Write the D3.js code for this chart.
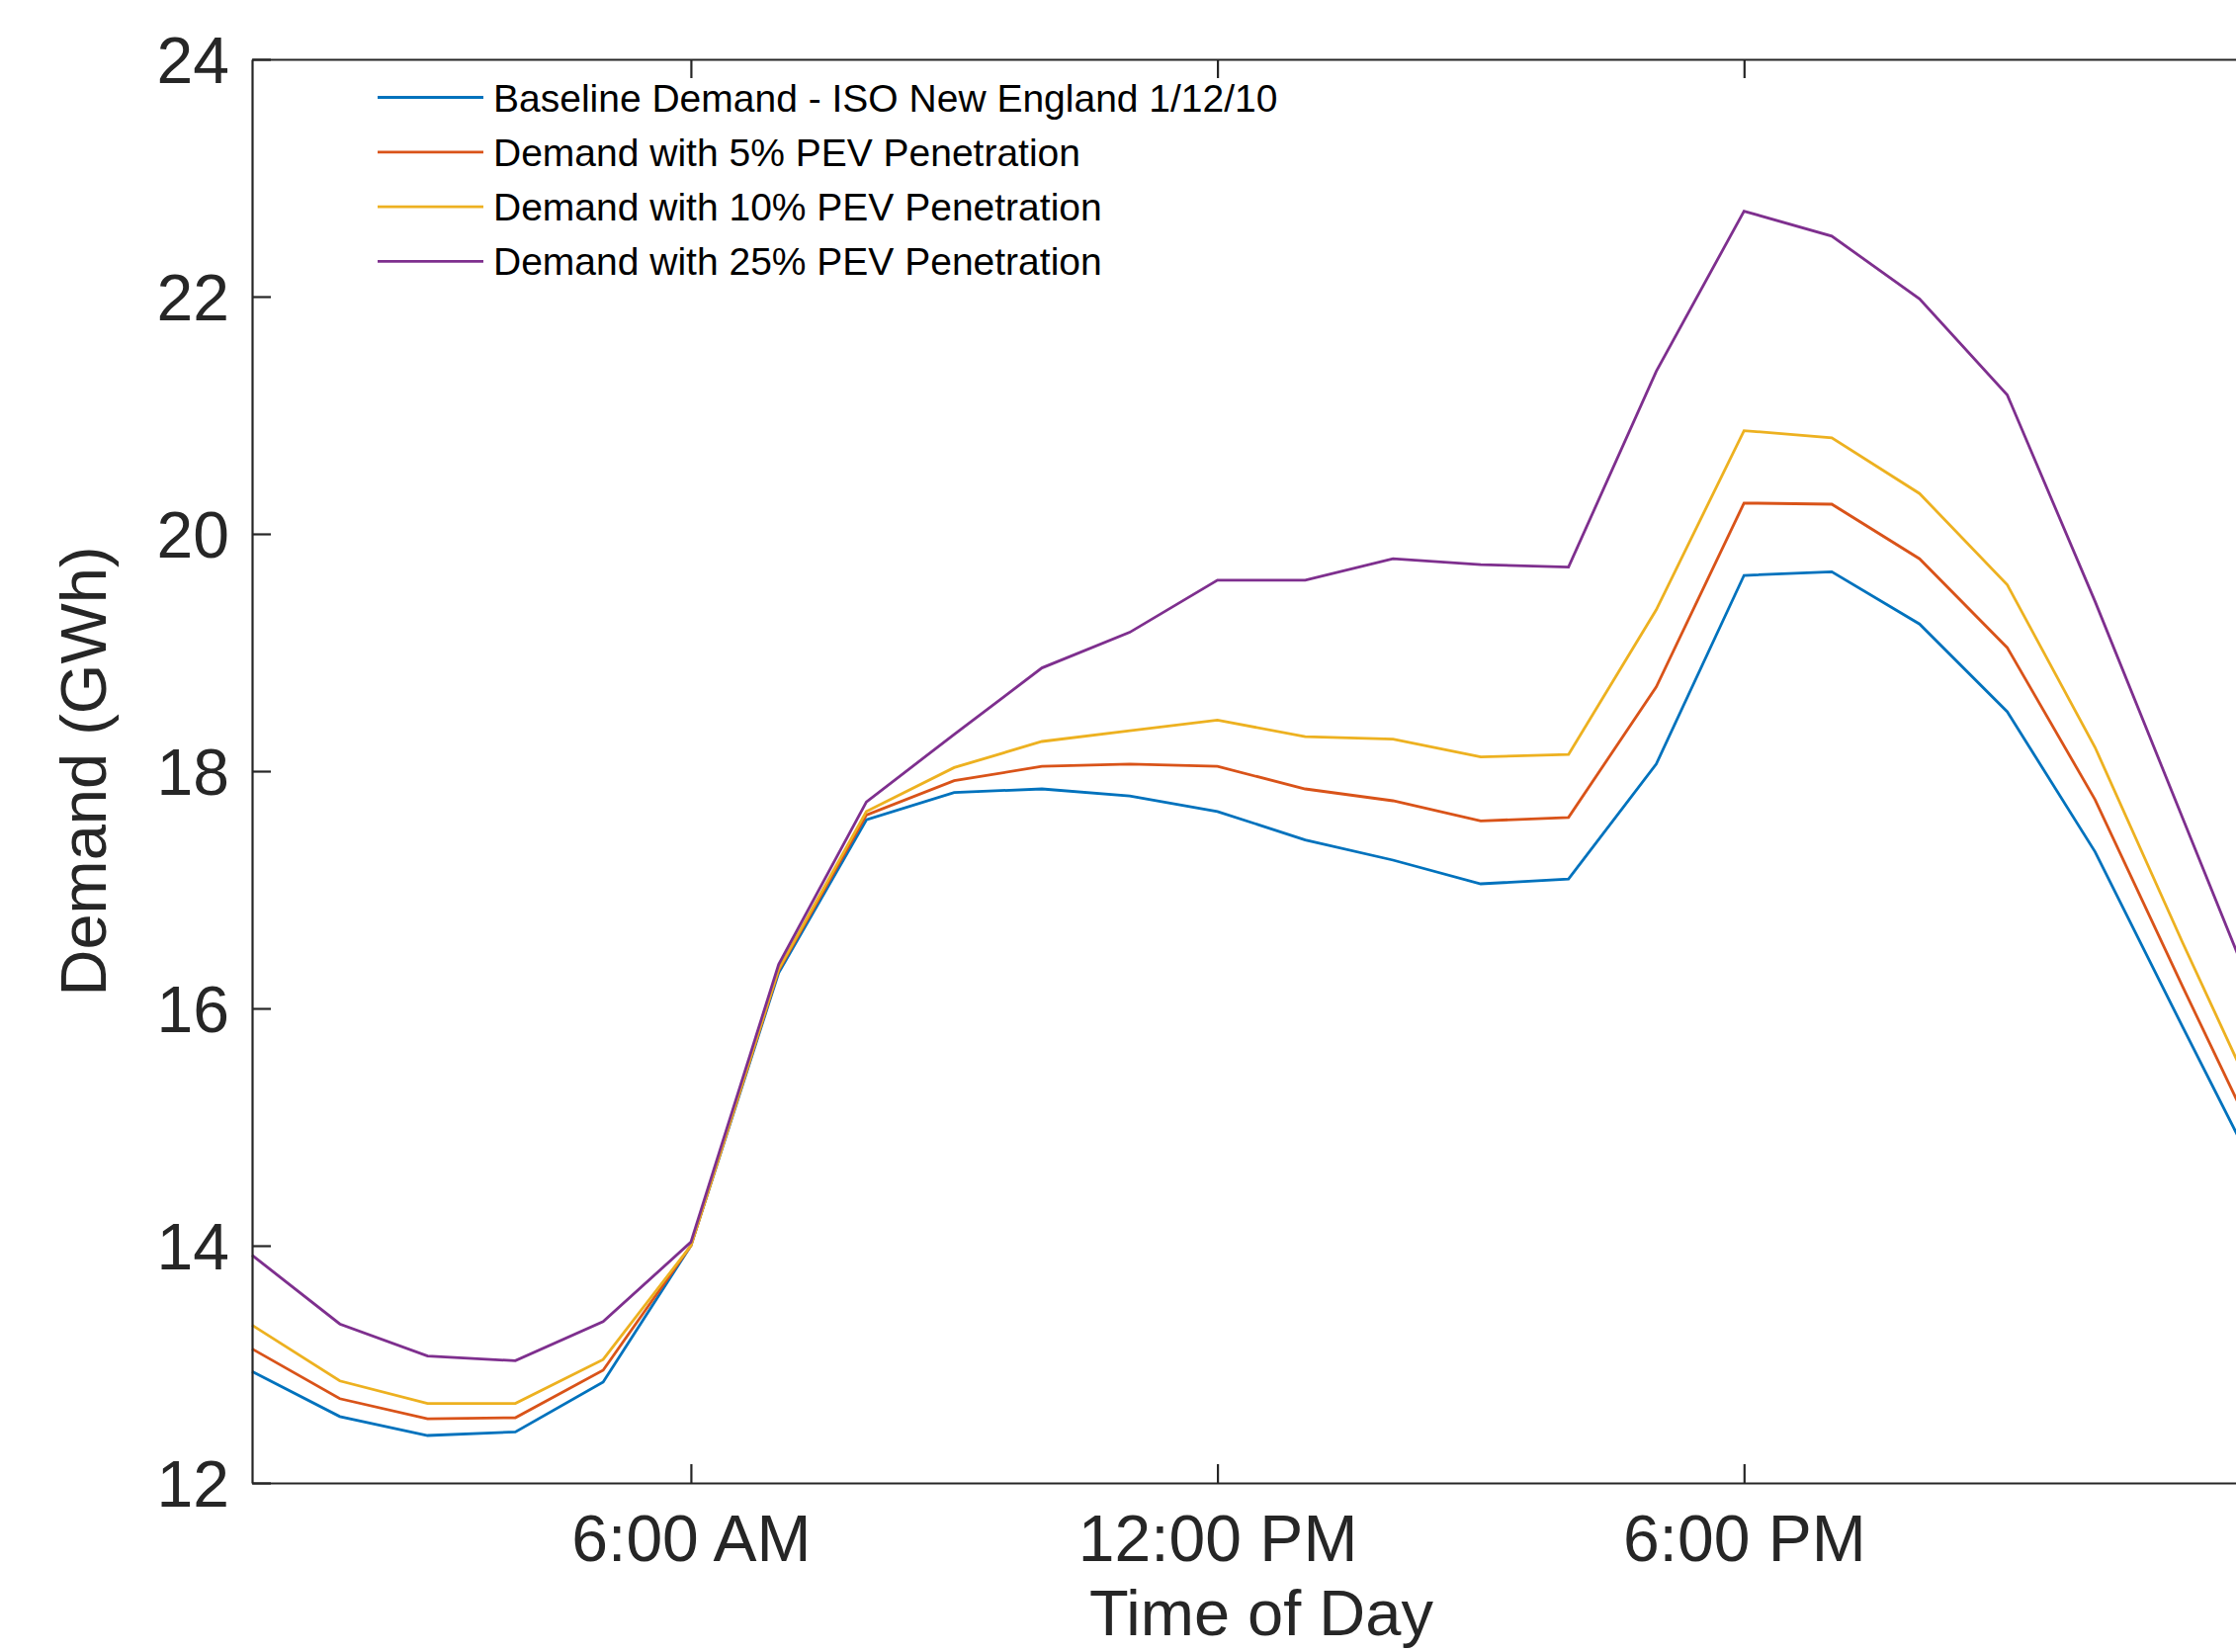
<!DOCTYPE html>
<html>
<head>
<meta charset="utf-8">
<script src="https://cdn.jsdelivr.net/npm/d3@7"></script>
<style>
  html, body { margin: 0; padding: 0; background: #fff; overflow: hidden; }
  svg { display: block; font-family: "Liberation Sans", Arial, Helvetica, sans-serif; }
</style>
</head>
<body>
<svg id="chart" width="2262" height="1671"></svg>
<script>
// ---- data ----
const hours = [1,2,3,4,5,6,7,8,9,10,11,12,13,14,15,16,17,18,19,20,21,22,23,24];
const baseline = [12.94,12.56,12.40,12.43,12.85,14.00,16.30,17.59,17.82,17.85,17.79,17.66,17.42,17.25,17.05,17.09,18.06,19.65,19.68,19.24,18.50,17.32,15.84,14.38];
const pev5     = [13.13,12.71,12.54,12.55,12.95,14.00,16.32,17.63,17.92,18.04,18.06,18.04,17.85,17.75,17.58,17.61,18.71,20.26,20.25,19.79,19.04,17.76,16.18,14.63];
const pev10    = [13.33,12.86,12.67,12.67,13.04,14.00,16.33,17.66,18.03,18.25,18.34,18.43,18.29,18.27,18.12,18.14,19.36,20.87,20.81,20.34,19.57,18.20,16.55,14.95];
const pev25    = [13.92,13.34,13.07,13.03,13.36,14.03,16.37,17.74,18.31,18.87,19.17,19.61,19.61,19.79,19.74,19.72,21.37,22.72,22.51,21.98,21.17,19.43,17.60,15.77];
const seriesNames = [
  "Baseline Demand - ISO New England 1/12/10",
  "Demand with 5% PEV Penetration",
  "Demand with 10% PEV Penetration",
  "Demand with 25% PEV Penetration"
];
const seriesColors = ["#0072BD", "#D95319", "#EDB120", "#7E2F8E"];
const xTickValues = [6, 12, 18];
const xTickLabels = ["6:00 AM", "12:00 PM", "6:00 PM"];
const yTickValues = [12, 14, 16, 18, 20, 22, 24];
const xLabel = "Time of Day";
const yLabel = "Demand (GWh)";

// ---- layout ----
const svg = d3.select("#chart");
const plotLeft = 255, plotRight = 2297, plotTop = 60, plotBottom = 1500;
const axisColor = "#262626";
const tickLen = 19;

const x = d3.scaleLinear().domain([1, 24]).range([plotLeft, plotRight]);
const y = d3.scaleLinear().domain([12, 24]).range([plotBottom, plotTop]);

// lines
const series = [baseline, pev5, pev10, pev25];
const line = d3.line().x((d, i) => x(hours[i])).y(d => y(d));
svg.append("g").selectAll("path")
  .data(series)
  .join("path")
  .attr("d", d => line(d))
  .attr("fill", "none")
  .attr("stroke", (d, i) => seriesColors[i])
  .attr("stroke-width", 2.8)
  .attr("stroke-linejoin", "miter");

// axes
const labelMap = new Map(xTickValues.map((v, i) => [v, xTickLabels[i]]));
const gx = svg.append("g").attr("transform", `translate(0,${plotBottom})`)
  .call(d3.axisBottom(x).tickValues(xTickValues).tickFormat(v => labelMap.get(v))
        .tickSizeInner(-tickLen).tickSizeOuter(0).tickPadding(31));
const gxTop = svg.append("g").attr("transform", `translate(0,${plotTop})`)
  .call(d3.axisTop(x).tickValues(xTickValues).tickFormat("")
        .tickSizeInner(-tickLen).tickSizeOuter(0));
const gy = svg.append("g").attr("transform", `translate(${plotLeft},0)`)
  .call(d3.axisLeft(y).tickValues(yTickValues).tickFormat(d3.format("d"))
        .tickSizeInner(-tickLen).tickSizeOuter(0).tickPadding(23));
const gyRight = svg.append("g").attr("transform", `translate(${plotRight},0)`)
  .call(d3.axisRight(y).tickValues(yTickValues).tickFormat("")
        .tickSizeInner(-tickLen).tickSizeOuter(0));

[gx, gxTop, gy, gyRight].forEach(g => {
  g.select(".domain").attr("stroke", axisColor).attr("stroke-width", 2.2);
  g.selectAll(".tick line").attr("stroke", axisColor).attr("stroke-width", 2.2);
  g.selectAll(".tick text").attr("fill", axisColor)
    .style("font-size", "66px")
    .style("font-family", "'Liberation Sans', Arial, sans-serif");
});
gx.selectAll(".tick text").attr("dy", "0.72em");
gy.selectAll(".tick text").attr("dy", "0.36em");

// axis titles
svg.append("text")
  .attr("x", (plotLeft + plotRight) / 2).attr("y", 1654)
  .attr("text-anchor", "middle")
  .attr("fill", axisColor)
  .style("font-size", "65px")
  .text(xLabel);
svg.append("text")
  .attr("transform", `translate(107,${(plotTop + plotBottom) / 2}) rotate(-90)`)
  .attr("text-anchor", "middle")
  .attr("fill", axisColor)
  .style("font-size", "65px")
  .text(yLabel);

// legend
const legend = svg.append("g");
const legY0 = 98.5, legDy = 55.3;
seriesNames.forEach((name, i) => {
  const yy = legY0 + i * legDy;
  legend.append("line")
    .attr("x1", 382).attr("x2", 489).attr("y1", yy).attr("y2", yy)
    .attr("stroke", seriesColors[i]).attr("stroke-width", 2.8);
  legend.append("text")
    .attr("x", 499).attr("y", yy).attr("dy", "0.36em")
    .attr("fill", "#000")
    .style("font-size", "39px")
    .text(name);
});
</script>
</body>
</html>
